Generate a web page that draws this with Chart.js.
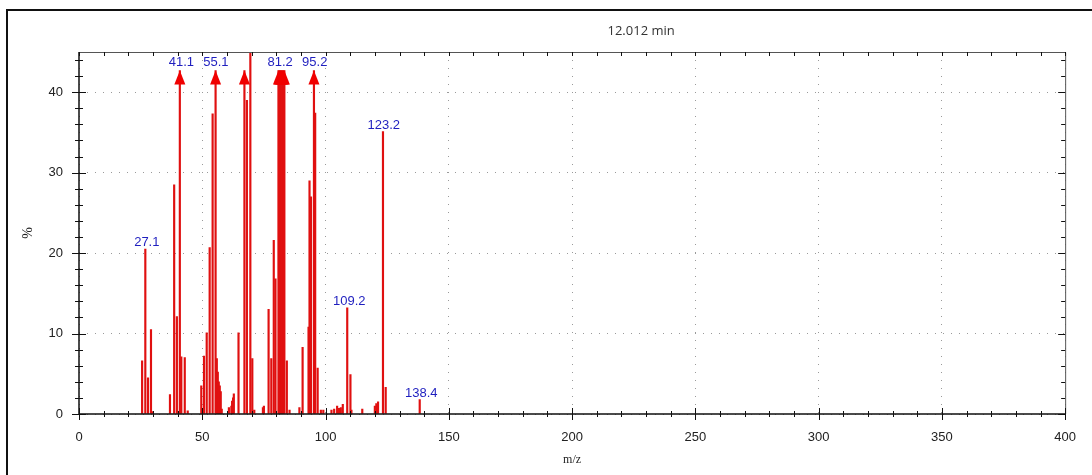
<!DOCTYPE html>
<html>
<head>
<meta charset="utf-8">
<script src="https://cdn.jsdelivr.net/npm/chart.js@4.4.1/dist/chart.umd.min.js"></script>
<style>
  html, body { margin: 0; padding: 0; background: #fff; }
  #wrap { width: 1092px; height: 475px; }
</style>
</head>
<body>
<div id="wrap"><canvas id="ms"></canvas></div>
<script>
// spectrum at 12.012 min, m/z vs relative %
const mz = [25.6, 26.9, 28.0, 29.2, 29.8, 36.9, 38.6, 39.7, 40.9, 41.5, 42.9, 44.1,
  49.6, 50.7, 51.8, 53.0, 54.2, 55.4, 55.9, 56.3, 56.7, 57.1, 57.5, 57.9,
  60.8, 61.8, 62.1, 62.5, 62.8, 64.7, 67.1, 68.1, 69.5, 70.3, 71.1, 74.6, 75.0,
  76.9, 78.0, 79.0, 79.7, 80.9, 81.3, 81.7, 82.1, 82.5, 82.9, 83.3, 84.3, 85.4,
  89.4, 90.7, 93.1, 93.5, 94.1, 95.3, 95.8, 96.8, 98.1, 99.1,
  102.4, 103.5, 104.7, 105.5, 106.2, 107.0, 108.8, 110.1, 110.5, 114.9,
  120.0, 120.6, 121.3, 123.3, 124.4, 138.2];
const intensity = [6.6, 20.5, 4.5, 10.5, 0.3, 2.4, 28.5, 12.1, 48, 7.1, 7.0, 0.4,
  3.5, 7.2, 10.1, 20.7, 37.3, 52, 6.9, 5.2, 4.0, 3.5, 2.8, 0.6,
  0.8, 1.0, 1.6, 2.0, 2.5, 10.1, 50, 39, 45.8, 6.9, 0.5, 0.8, 1.0,
  13, 6.9, 21.6, 16.8, 60, 100, 85, 70, 66, 62, 58, 6.6, 0.5,
  0.8, 8.3, 10.8, 29, 27, 55, 37.4, 5.7, 0.5, 0.5,
  0.5, 0.6, 1.0, 0.7, 0.8, 1.2, 13.2, 4.9, 0.5, 0.6,
  1.0, 1.3, 1.5, 35.1, 3.3, 1.8];

// annotated peaks
const labelMz = [27.1, 41.1, 55.1, 81.2, 95.2, 109.2, 123.2, 138.4];
const labelPeak = [20.5, 48, 52, 100, 55, 13.2, 35.1, 1.8];

const xTicks = [0, 50, 100, 150, 200, 250, 300, 350, 400];
const yTicks = [0, 10, 20, 30, 40];
const titleText = '12.012 min';

const yMax = 45;
const offscale = 47;   // peaks above this get an arrow
const arrowTip = 42.7; // where clipped peaks stop

const bars = mz.map((m, i) => ({ x: m, y: intensity[i] >= offscale ? arrowTip : intensity[i] }));

const frame = {
  id: 'frame',
  beforeDraw(chart) {
    const { ctx, width, height } = chart;
    ctx.save();
    ctx.strokeStyle = '#111';
    ctx.lineWidth = 2;
    ctx.beginPath();
    ctx.moveTo(7, height);
    ctx.lineTo(7, 10);
    ctx.lineTo(width, 10);
    ctx.stroke();
    ctx.restore();
  },
  afterDatasetsDraw(chart) {
    const { ctx, chartArea: a, scales: { x, y } } = chart;
    ctx.save();

    // arrows on clipped peaks
    ctx.fillStyle = '#f00000';
    mz.forEach((m, i) => {
      if (intensity[i] < offscale) return;
      const px = x.getPixelForValue(m);
      const py = y.getPixelForValue(arrowTip);
      ctx.beginPath();
      ctx.moveTo(px, py);
      ctx.lineTo(px - 5.5, py + 14);
      ctx.lineTo(px + 5.5, py + 14);
      ctx.closePath();
      ctx.fill();
    });

    // axis frame
    ctx.strokeStyle = '#555';
    ctx.lineWidth = 1;
    ctx.beginPath();
    ctx.moveTo(a.left, a.top + 0.5);
    ctx.lineTo(a.right + 0.5, a.top + 0.5);
    ctx.lineTo(a.right + 0.5, a.bottom);
    ctx.stroke();
    ctx.strokeStyle = '#111';
    ctx.lineWidth = 1.5;
    ctx.beginPath();
    ctx.moveTo(a.left, a.top);
    ctx.lineTo(a.left, a.bottom);
    ctx.lineTo(a.right, a.bottom);
    ctx.stroke();

    // ticks, majors cross the axis
    ctx.lineWidth = 1;
    ctx.strokeStyle = '#111';
    ctx.beginPath();
    for (let v = x.min; v <= x.max; v += 10) {
      const px = Math.round(x.getPixelForValue(v)) + 0.5;
      const t = v % 50 === 0 ? 6 : 3;
      ctx.moveTo(px, a.bottom - t);
      ctx.lineTo(px, a.bottom + t);
      ctx.moveTo(px, a.top);
      ctx.lineTo(px, a.top + 4);
    }
    for (let v = y.min; v <= y.max; v += 2) {
      const py = Math.round(y.getPixelForValue(v)) + 0.5;
      const t = v % 10 === 0 ? 7 : 4;
      ctx.moveTo(a.left - t, py);
      ctx.lineTo(a.left + t, py);
      ctx.moveTo(a.right - t, py);
      ctx.lineTo(a.right, py);
    }
    ctx.stroke();

    // peak labels
    ctx.font = '13px "Liberation Sans", Arial, sans-serif';
    ctx.fillStyle = '#1f1fbf';
    ctx.textAlign = 'center';
    ctx.textBaseline = 'alphabetic';
    labelMz.forEach((m, i) => {
      const px = x.getPixelForValue(m) + 1;
      const py = labelPeak[i] >= offscale
        ? y.getPixelForValue(arrowTip) - 5
        : y.getPixelForValue(labelPeak[i]) - 3;
      ctx.fillText(m.toFixed(1), px, py);
    });

    // title, sits right of centre like the original
    ctx.font = '13px "Open Sans", sans-serif';
    ctx.fillStyle = '#333';
    ctx.textBaseline = 'middle';
    ctx.fillText(titleText, a.left + (a.right - a.left) * 0.57, a.top - 21);
    ctx.restore();
  }
};

const tickFont = { family: '"Liberation Sans", Arial, sans-serif', size: 13 };

new Chart(document.getElementById('ms'), {
  type: 'bar',
  data: {
    datasets: [{
      data: bars,
      backgroundColor: '#e01010',
      barThickness: 1.5,
      borderWidth: 0
    }]
  },
  options: {
    responsive: true,
    maintainAspectRatio: false,
    animation: false,
    layout: { padding: { top: 52, right: 21, left: 0, bottom: 0 } },
    plugins: { legend: { display: false }, tooltip: { enabled: false }, title: { display: false } },
    scales: {
      x: {
        type: 'linear',
        min: 0,
        max: 400,
        offset: false,
        afterFit: s => { s.height = 61; },
        afterBuildTicks: s => { s.ticks = xTicks.map(v => ({ value: v })); },
        ticks: { font: tickFont, color: '#222', padding: 16, maxRotation: 0 },
        grid: { offset: false, color: '#9a9a9a', drawTicks: false },
        border: { display: false, dash: [1, 7] },
        title: {
          display: true, text: 'm/z', color: '#222',
          font: { family: '"Liberation Serif", serif', size: 12 },
          padding: { top: 0, bottom: 8 }
        }
      },
      y: {
        min: 0,
        max: yMax,
        afterFit: s => { s.width = 79; },
        afterBuildTicks: s => { s.ticks = yTicks.map(v => ({ value: v })); },
        ticks: { font: tickFont, color: '#222', padding: 16 },
        grid: { color: '#9a9a9a', drawTicks: false },
        border: { display: false, dash: [1, 7] },
        title: {
          display: true, text: '%', color: '#222',
          font: { family: '"Liberation Serif", serif', size: 14 },
          padding: { top: 20, bottom: 0 }
        }
      }
    }
  },
  plugins: [frame]
});
</script>
</body>
</html>
